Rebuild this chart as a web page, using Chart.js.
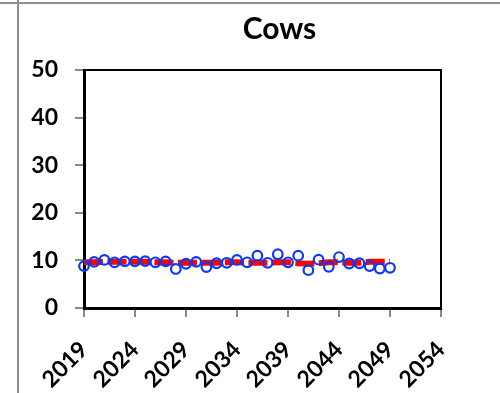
<!DOCTYPE html>
<html>
<head>
<meta charset="utf-8">
<script src="https://cdn.jsdelivr.net/npm/chart.js@4.4.1/dist/chart.umd.min.js"></script>
<style>
  html, body { margin: 0; padding: 0; background: #fff; }
  #wrap { position: relative; width: 500px; height: 393px; overflow: hidden; }
  #c { position: absolute; left: 0; top: 0; }
  .rule { position: absolute; background: #8f8f8f; }
  #ruleTop { left: 0; top: 2px; width: 500px; height: 2px; }
  #ruleLeft { left: 17px; top: 0; width: 2px; height: 393px; }
</style>
</head>
<body>
<div id="wrap">
  <canvas id="c" width="500" height="393"></canvas>
  <div class="rule" id="ruleTop"></div>
  <div class="rule" id="ruleLeft"></div>
</div>
<script>
// Yearly herd figures and the smoothed trend line
const years = [2019,2020,2021,2022,2023,2024,2025,2026,2027,2028,2029,2030,2031,2032,2033,2034,
               2035,2036,2037,2038,2039,2040,2041,2042,2043,2044,2045,2046,2047,2048,2049];
const observed = [8.8,9.7,10.1,9.6,9.8,9.8,9.85,9.6,9.8,8.2,9.3,9.7,8.6,9.4,9.5,10.1,
                  9.6,11.0,9.5,11.3,9.6,11.0,7.95,10.15,8.65,10.7,9.35,9.4,8.8,8.3,8.45];
const trend = [9.6,9.6,9.7,9.7,9.7,9.7,9.7,9.6,9.6,9.5,9.5,9.5,9.5,9.5,9.6,9.6,
               9.5,9.5,9.5,9.6,9.6,9.4,9.3,9.4,9.6,9.6,9.5,9.5,9.7,9.7,9.7];
const xTickLabels = [2019,2024,2029,2034,2039,2044,2049,2054];
const yTickLabels = [0,10,20,30,40,50];
const chartTitle = 'Cows';

const FONT = 'Lato, "Open Sans", "Liberation Sans", sans-serif';

// Black frame on the top and right of the plot area
const plotFrame = {
  id: 'plotFrame',
  afterDraw(chart) {
    const {ctx, chartArea: a} = chart;
    ctx.save();
    ctx.strokeStyle = '#000';
    ctx.lineWidth = 2;
    ctx.beginPath();
    ctx.moveTo(a.left, a.top);
    ctx.lineTo(a.right, a.top);
    ctx.lineTo(a.right, a.bottom);
    ctx.stroke();
    ctx.restore();
  }
};

new Chart(document.getElementById('c'), {
  type: 'scatter',
  data: {
    datasets: [
      {
        label: 'Trend',
        data: years.map((y, i) => ({x: y, y: trend[i]})),
        showLine: true,
        borderColor: '#ff0000',
        borderWidth: 6,
        borderDash: [19, 4.5],
        borderCapStyle: 'butt',
        pointRadius: 0,
        pointHoverRadius: 0,
        tension: 0,
        clip: false,
        order: 2
      },
      {
        label: 'Cows',
        data: years.map((y, i) => ({x: y, y: observed[i]})),
        showLine: false,
        pointStyle: 'circle',
        pointRadius: 4.8,
        pointBorderWidth: 2.2,
        pointBorderColor: 'rgb(12,58,240)',
        pointBackgroundColor: 'rgba(0,0,0,0)',
        clip: false,
        order: 1
      }
    ]
  },
  options: {
    responsive: false,
    animation: false,
    // the title box is centred over the plot plus its right margin
    layout: { padding: { left: 24, right: -35, top: 0, bottom: 0 } },
    plugins: {
      legend: { display: false },
      tooltip: { enabled: false },
      title: {
        display: true,
        text: chartTitle,
        color: '#000',
        font: { family: FONT, size: 30, weight: 'bold', lineHeight: 1.2 },
        padding: { top: 11, bottom: 23 }
      }
    },
    scales: {
      x: {
        type: 'linear',
        min: xTickLabels[0],
        max: xTickLabels[xTickLabels.length - 1],
        afterBuildTicks(axis) { axis.ticks = xTickLabels.map(v => ({value: v})); },
        afterFit(axis) { axis.height = 85; },
        grid: { drawOnChartArea: false, drawTicks: true, tickLength: 9, color: '#8a8a8a', lineWidth: 2 },
        border: { display: true, color: '#000', width: 3 },
        ticks: {
          color: '#000',
          font: { family: FONT, size: 23, weight: 'bold' },
          minRotation: 45,
          maxRotation: 45,
          padding: 19,
          autoSkip: false,
          callback: v => String(v)
        }
      },
      y: {
        type: 'linear',
        position: 'left',
        min: yTickLabels[0],
        max: yTickLabels[yTickLabels.length - 1],
        afterBuildTicks(axis) { axis.ticks = yTickLabels.map(v => ({value: v})); },
        afterFit(axis) { axis.width = 60; },
        grid: { drawOnChartArea: false, drawTicks: true, tickLength: 9, color: '#8a8a8a', lineWidth: 2 },
        border: { display: true, color: '#000', width: 3 },
        ticks: {
          color: '#000',
          font: { family: FONT, size: 23, weight: 'bold' },
          padding: 17,
          callback: v => String(v)
        }
      },
      yRight: {
        type: 'linear',
        position: 'right',
        display: true,
        afterFit(axis) { axis.width = 94; },
        grid: { display: false },
        border: { display: false },
        ticks: { display: false }
      }
    }
  },
  plugins: [plotFrame]
});
</script>
</body>
</html>
